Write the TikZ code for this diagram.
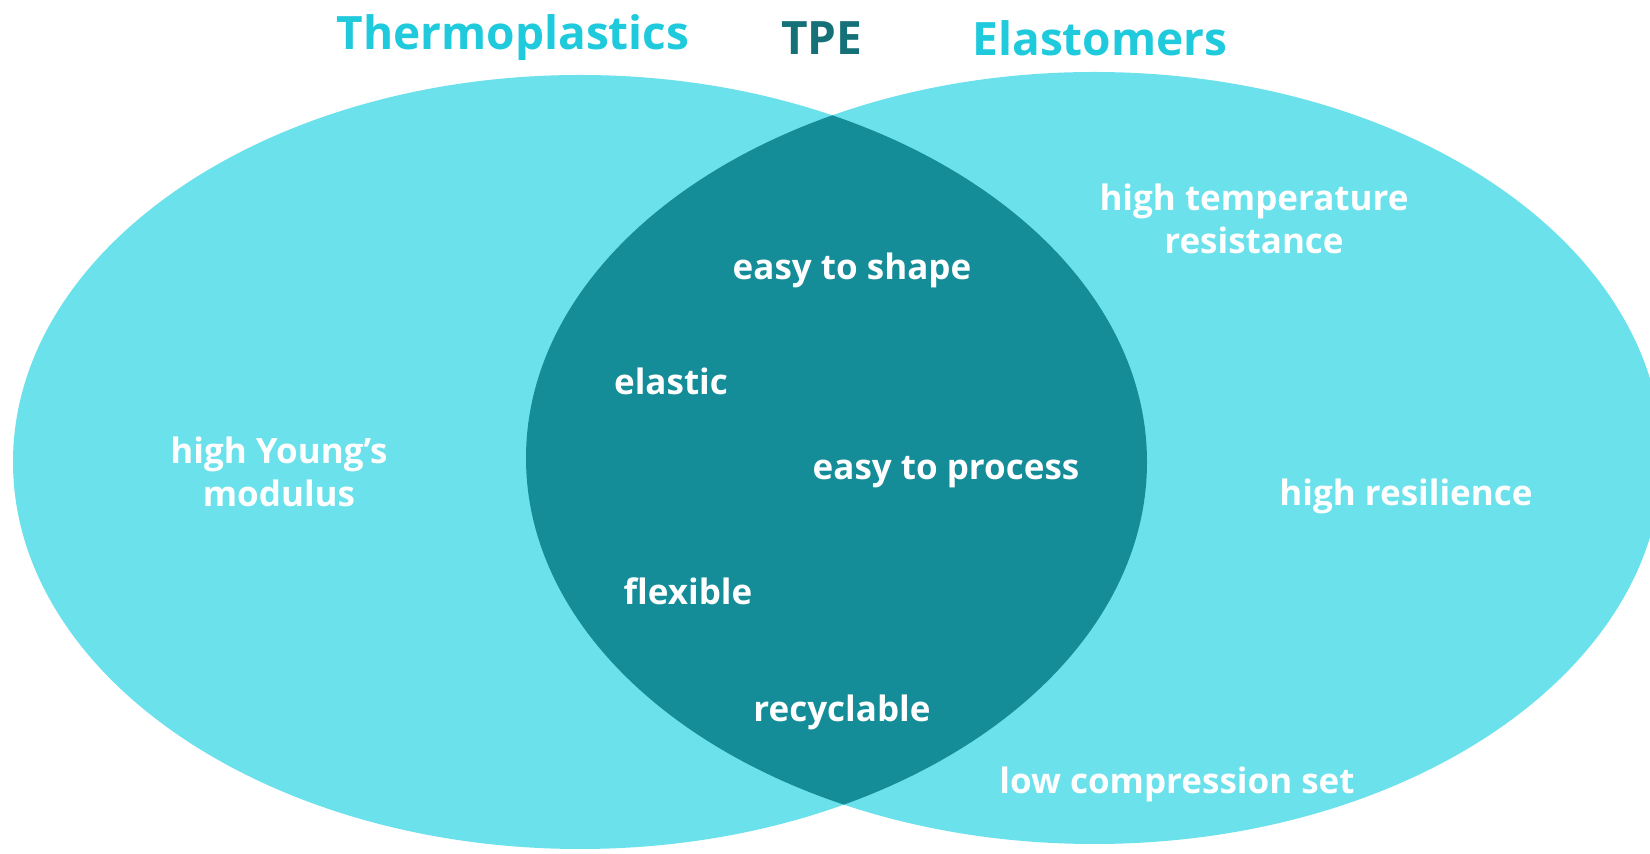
\documentclass[tikz,border=0pt]{standalone}
\usepackage{fontspec}
\setmainfont{Open Sans}
\usepackage{tikz}
\definecolor{lightcyan}{RGB}{107,225,236}
\definecolor{darkteal}{RGB}{20,141,152}
\definecolor{titlecyan}{RGB}{30,202,220}
\definecolor{titleteal}{RGB}{22,112,120}
\tikzset{
  prop/.style={text=white, font=\fontsize{17.5}{21.5}\selectfont\bfseries, align=center},
  heading/.style={font=\fontsize{23}{27}\selectfont\bfseries}
}

\begin{document}
\begin{tikzpicture}[x=0.5pt, y=-0.5pt]
			%%%%% START %%%%%
			\useasboundingbox (0, 0) rectangle (1650, 854);
			\clip (0, 0) rectangle (1650, 854);
			
			\fill[lightcyan] (580, 462) ellipse [x radius=567, y radius=387];
			\fill[lightcyan] (1094, 458) ellipse [x radius=568, y radius=386];
			\begin{scope}
				\clip (580, 462) ellipse [x radius=567, y radius=387];
				\fill[darkteal] (1094, 458) ellipse [x radius=568, y radius=386];
			\end{scope}
			
			\node[heading, text=titlecyan] (thermo) at (513, 38) {Thermoplastics};
			\node[heading, text=titleteal] (tpe) at (822, 38) {TPE};
			\node[heading, text=titlecyan] (elasto) at (1100, 38) {Elastomers};
			
			\node[prop] (young) at (279, 472) {high Young’s\\modulus};
			
			\node[prop] (shape) at (852, 270) {easy to shape};
			\node[prop] (elastic) at (671, 381) {elastic};
			\node[prop] (process) at (946, 472) {easy to process};
			\node[prop] (flexible) at (688, 591) {flexible};
			\node[prop] (recycle) at (842, 712) {recyclable};
			
			\node[prop] (temp) at (1254, 219) {high temperature\\resistance};
			\node[prop] (resil) at (1406, 496) {high resilience};
			\node[prop] (compr) at (1177, 784) {low compression set};
			%%%%% END %%%%%
\end{tikzpicture}
\end{document}
